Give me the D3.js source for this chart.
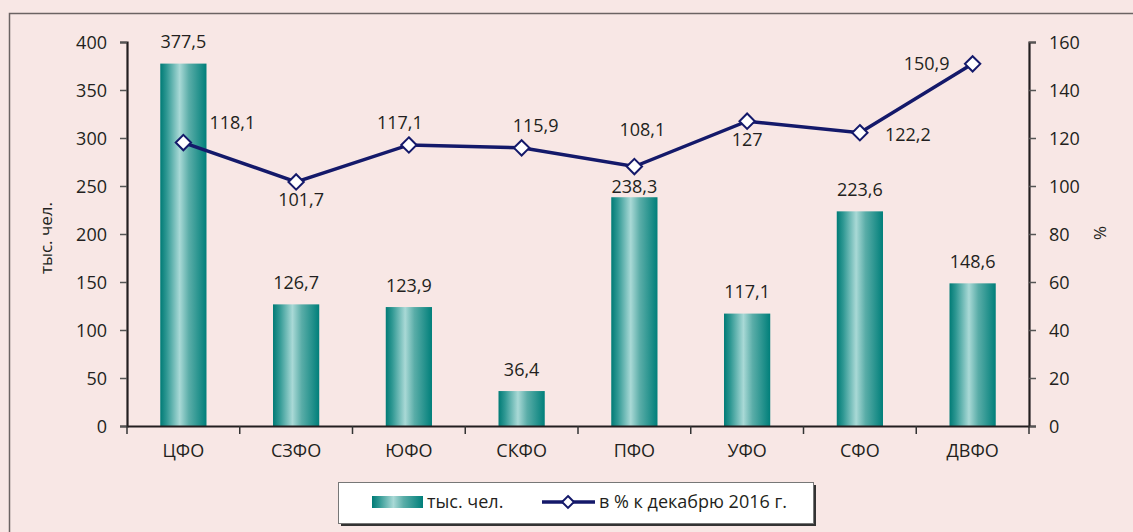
<!DOCTYPE html>
<html lang="ru">
<head>
<meta charset="UTF-8">
<title>ФО</title>
<script src="https://d3js.org/d3.v7.min.js"></script>
<style>
  body { margin: 0; background: #f8e7e5; }
  svg { font-family: "Open Sans", sans-serif; font-size: 18px; }
  .axis text { fill: #231f20; font-size: 18px; font-family: "Open Sans", sans-serif; }
  .lbl { fill: #231f20; }
</style>
</head>
<body>
<div id="chart"></div>
<script>
// data
var regions = ["ЦФО", "СЗФО", "ЮФО", "СКФО", "ПФО", "УФО", "СФО", "ДВФО"];
var thousands = [377.5, 126.7, 123.9, 36.4, 238.3, 117.1, 223.6, 148.6];
var percent = [118.1, 101.7, 117.1, 115.9, 108.1, 127, 122.2, 150.9];
var leftTicks = [0, 50, 100, 150, 200, 250, 300, 350, 400];
var rightTicks = [0, 20, 40, 60, 80, 100, 120, 140, 160];

// label nudges (layout only)
var barLabelDy = [-22, -22, -22, -22, -11, -22, -22, -22];
var lineLabelDx = [49, 5, -9, 14, 8, 0, 48, -46];
var lineLabelDy = [-20, 18, -22, -22, -37, 18, 2, 0];

var W = 1133, H = 532;
var plotL = 127, plotR = 1029, plotT = 42, plotB = 426;

var svg = d3.select("#chart").append("svg")
    .attr("width", W).attr("height", H);

// gradient for bars
var defs = svg.append("defs");
var grad = defs.append("linearGradient").attr("id", "barGrad")
    .attr("x1", "0%").attr("x2", "100%").attr("y1", "0%").attr("y2", "0%");
[["0%", "#007b76"], ["14%", "#2f9893"], ["42%", "#a9d9d6"], ["62%", "#5aada8"], ["100%", "#007f7a"]]
    .forEach(function(s) { grad.append("stop").attr("offset", s[0]).attr("stop-color", s[1]); });

// frame
svg.append("rect")
    .attr("x", 9.5).attr("y", 13.5)
    .attr("width", W).attr("height", H)
    .attr("fill", "none").attr("stroke", "#6b6363").attr("stroke-width", 1.5);

var x = d3.scaleBand().domain(regions).range([plotL, plotR]).padding(0);
var yL = d3.scaleLinear().domain([0, 400]).range([plotB, plotT]);
var yR = d3.scaleLinear().domain([0, 160]).range([plotB, plotT]);
var barW = x.bandwidth() * 0.41;

// bars
svg.append("g").selectAll("rect")
    .data(thousands).enter().append("rect")
    .attr("x", function(d, i) { return x(regions[i]) + x.bandwidth() / 2 - barW / 2; })
    .attr("y", function(d) { return yL(d); })
    .attr("width", barW)
    .attr("height", function(d) { return plotB - yL(d); })
    .attr("fill", "url(#barGrad)");

// axes
var gl = svg.append("g").attr("class", "axis").attr("transform", "translate(" + plotL + ",0)")
    .call(d3.axisLeft(yL).tickValues(leftTicks).tickSize(7).tickPadding(13));
var gr = svg.append("g").attr("class", "axis").attr("transform", "translate(" + plotR + ",0)")
    .call(d3.axisRight(yR).tickValues(rightTicks).tickSize(7).tickPadding(13));
[gl, gr].forEach(function(g) {
    g.select(".domain").attr("stroke", "#231f20").attr("stroke-width", 2.2);
    g.selectAll(".tick line").attr("stroke", "#555").attr("stroke-width", 1.5);
    g.selectAll(".tick text").attr("dy", "0.36em");
});

var gx = svg.append("g").attr("class", "axis").attr("transform", "translate(0," + plotB + ")")
    .call(d3.axisBottom(x).tickSize(0).tickPadding(18));
gx.select(".domain").attr("stroke", "#231f20").attr("stroke-width", 2.2);
// boundary ticks between categories
var edges = regions.map(function(d) { return x(d); }).concat([plotR]);
svg.append("g").selectAll("line")
    .data(edges).enter().append("line")
    .attr("x1", function(d) { return d; }).attr("x2", function(d) { return d; })
    .attr("y1", plotB).attr("y2", plotB + 8)
    .attr("stroke", "#333").attr("stroke-width", 1.5);

// axis titles
svg.append("text").attr("class", "lbl")
    .attr("transform", "translate(52,238) rotate(-90)")
    .attr("text-anchor", "middle").style("font-size", "17px").text("тыс. чел.");
svg.append("text").attr("class", "lbl")
    .attr("transform", "translate(1106,233) rotate(-90)")
    .attr("text-anchor", "middle").style("font-size", "17px").text("%");

// line
var cx = function(i) { return x(regions[i]) + x.bandwidth() / 2; };
var line = d3.line().x(function(d, i) { return cx(i); }).y(function(d) { return yR(d); });
svg.append("path").datum(percent)
    .attr("d", line).attr("fill", "none")
    .attr("stroke", "#14196a").attr("stroke-width", 3.5);

var diamond = d3.symbol().type(d3.symbolDiamond2).size(150);
svg.append("g").selectAll("path")
    .data(percent).enter().append("path")
    .attr("d", diamond)
    .attr("transform", function(d, i) { return "translate(" + cx(i) + "," + yR(d) + ")"; })
    .attr("fill", "#fff").attr("stroke", "#14196a").attr("stroke-width", 2);

var fmt = function(v) { return String(v).replace(".", ","); };

// bar labels
svg.append("g").selectAll("text")
    .data(thousands).enter().append("text").attr("class", "lbl")
    .attr("x", function(d, i) { return cx(i); })
    .attr("y", function(d, i) { return yL(d) + barLabelDy[i]; })
    .attr("dy", "0.36em").attr("text-anchor", "middle")
    .text(fmt);

// line labels
svg.append("g").selectAll("text")
    .data(percent).enter().append("text").attr("class", "lbl")
    .attr("x", function(d, i) { return cx(i) + lineLabelDx[i]; })
    .attr("y", function(d, i) { return yR(d) + lineLabelDy[i]; })
    .attr("dy", "0.36em").attr("text-anchor", "middle")
    .text(fmt);

// legend
var lg = svg.append("g");
lg.append("rect").attr("x", 341).attr("y", 485).attr("width", 475).attr("height", 41).attr("fill", "#333");
lg.append("rect").attr("x", 338.5).attr("y", 482.5).attr("width", 475).attr("height", 41)
    .attr("fill", "#fff").attr("stroke", "#777").attr("stroke-width", 1);
lg.append("rect").attr("x", 372).attr("y", 496).attr("width", 51).attr("height", 12).attr("fill", "url(#barGrad)");
lg.append("text").attr("class", "lbl").attr("x", 427).attr("y", 502).attr("dy", "0.36em").text("тыс. чел.");
lg.append("line").attr("x1", 542).attr("x2", 595).attr("y1", 502).attr("y2", 502)
    .attr("stroke", "#14196a").attr("stroke-width", 3.5);
lg.append("path").attr("d", d3.symbol().type(d3.symbolDiamond2).size(90))
    .attr("transform", "translate(568,502)")
    .attr("fill", "#fff").attr("stroke", "#14196a").attr("stroke-width", 2);
lg.append("text").attr("class", "lbl").attr("x", 599).attr("y", 502).attr("dy", "0.36em").text("в % к декабрю 2016 г.");
</script>
</body>
</html>
